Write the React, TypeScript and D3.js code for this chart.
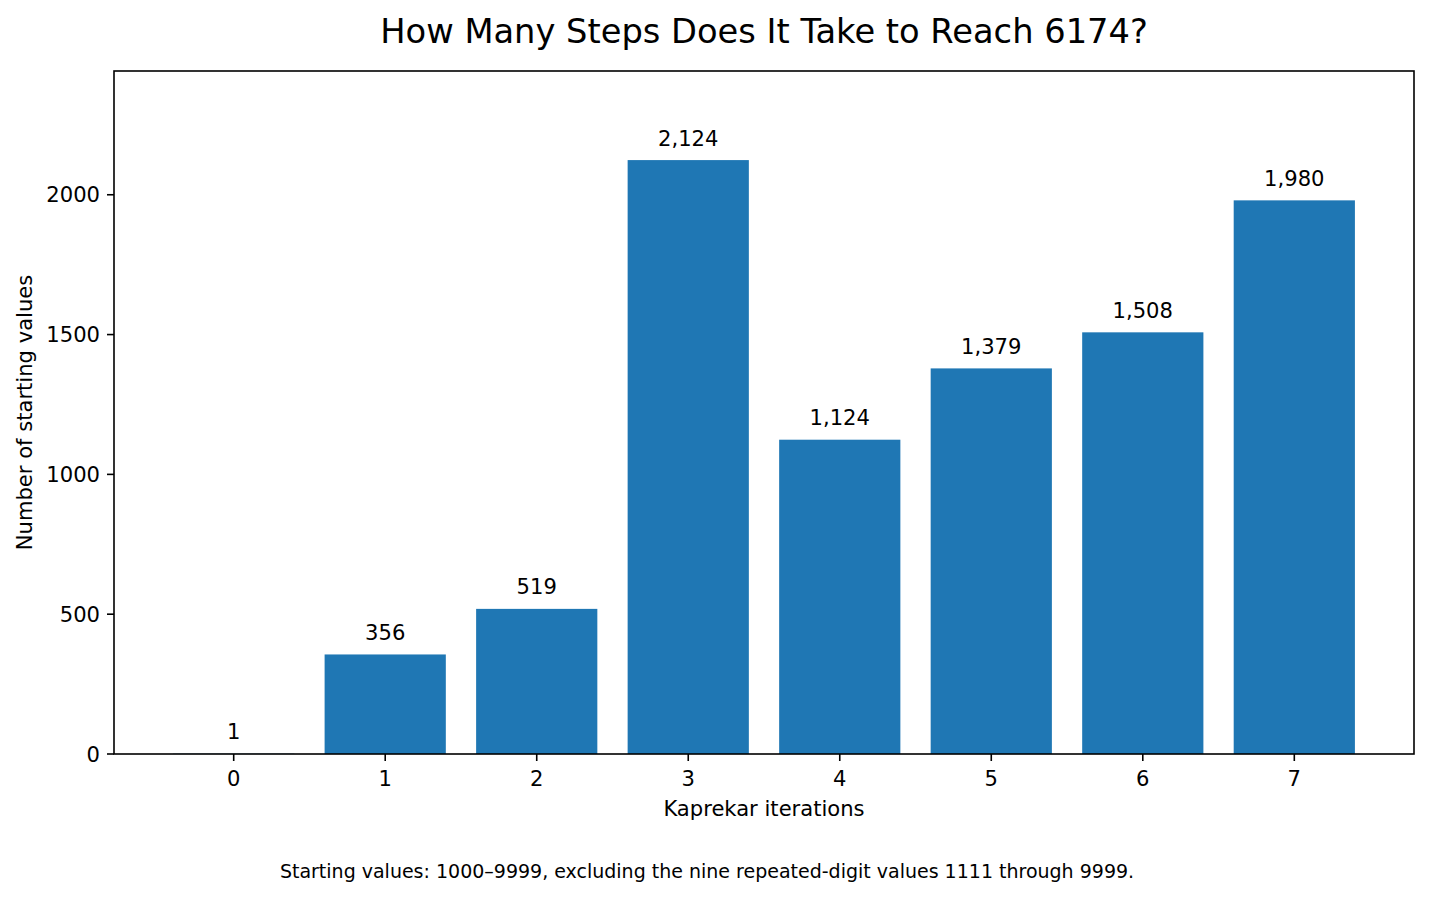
import React, { useEffect, useRef } from "react";
import * as d3 from "d3";

// dimensões da figura
const WIDTH = 1429;
const HEIGHT = 899;
const MARGIN = { top: 71, right: 15, bottom: 145, left: 114 };

// dados
const iterations: number[] = [0, 1, 2, 3, 4, 5, 6, 7];
const counts: number[] = [1, 356, 519, 2124, 1124, 1379, 1508, 1980];
const yTicks: number[] = [0, 500, 1000, 1500, 2000];

const TITLE = "How Many Steps Does It Take to Reach 6174?";
const X_LABEL = "Kaprekar iterations";
const Y_LABEL = "Number of starting values";
const NOTE =
  "Starting values: 1000\u20139999, excluding the nine repeated-digit values 1111 through 9999.";

const FONT = "'DejaVu Sans', sans-serif";
const BAR_COLOR = "#1f77b4";
const FS = 21.1; // tamanho dos textos dos eixos

const App: React.FC = () => {
  const ref = useRef<SVGSVGElement | null>(null);

  useEffect(() => {
    if (!ref.current) return;
    const svg = d3.select(ref.current);
    svg.selectAll("*").remove();

    const x0 = MARGIN.left;
    const x1 = WIDTH - MARGIN.right;
    const y0 = MARGIN.top;
    const y1 = HEIGHT - MARGIN.bottom;

    // escalas (margem de 5% como no matplotlib)
    const span = d3.max(iterations)! + 0.4 - (d3.min(iterations)! - 0.4);
    const xScale = d3
      .scaleLinear()
      .domain([d3.min(iterations)! - 0.4 - span * 0.05, d3.max(iterations)! + 0.4 + span * 0.05])
      .range([x0, x1]);
    const yScale = d3
      .scaleLinear()
      .domain([0, d3.max(counts)! * 1.15])
      .range([y1, y0]);
    const barW = xScale(0.8) - xScale(0);

    const g = svg.append("g").style("font-family", FONT);

    // barras
    g.selectAll(".bar")
      .data(counts)
      .enter()
      .append("rect")
      .attr("class", "bar")
      .attr("x", (_, i) => xScale(iterations[i]) - barW / 2)
      .attr("y", (d) => yScale(d))
      .attr("width", barW)
      .attr("height", (d) => y1 - yScale(d))
      .attr("fill", BAR_COLOR);

    // rótulos dos valores
    const fmt = d3.format(",");
    g.selectAll(".value")
      .data(counts)
      .enter()
      .append("text")
      .attr("class", "value")
      .attr("x", (_, i) => xScale(iterations[i]))
      .attr("y", (d) => yScale(d) - 14.5)
      .attr("text-anchor", "middle")
      .attr("font-size", FS)
      .text((d) => fmt(d));

    // moldura
    g.append("rect")
      .attr("x", x0)
      .attr("y", y0)
      .attr("width", x1 - x0)
      .attr("height", y1 - y0)
      .attr("fill", "none")
      .attr("stroke", "#000")
      .attr("stroke-width", 1.6);

    // eixo x
    const xt = g.selectAll(".xt").data(iterations).enter().append("g");
    xt.append("line")
      .attr("x1", (d) => xScale(d))
      .attr("x2", (d) => xScale(d))
      .attr("y1", y1)
      .attr("y2", y1 + 7)
      .attr("stroke", "#000")
      .attr("stroke-width", 1.6);
    xt.append("text")
      .attr("x", (d) => xScale(d))
      .attr("y", y1 + 32)
      .attr("text-anchor", "middle")
      .attr("font-size", FS)
      .text((d) => String(d));

    // eixo y
    const yt = g.selectAll(".yt").data(yTicks).enter().append("g");
    yt.append("line")
      .attr("x1", x0 - 7)
      .attr("x2", x0)
      .attr("y1", (d) => yScale(d))
      .attr("y2", (d) => yScale(d))
      .attr("stroke", "#000")
      .attr("stroke-width", 1.6);
    yt.append("text")
      .attr("x", x0 - 14)
      .attr("y", (d) => yScale(d) + 7.6)
      .attr("text-anchor", "end")
      .attr("font-size", FS)
      .text((d) => String(d));

    // títulos
    g.append("text")
      .attr("x", (x0 + x1) / 2)
      .attr("y", 43)
      .attr("text-anchor", "middle")
      .attr("font-size", 33.7)
      .text(TITLE);
    g.append("text")
      .attr("x", (x0 + x1) / 2)
      .attr("y", 816)
      .attr("text-anchor", "middle")
      .attr("font-size", FS)
      .text(X_LABEL);
    g.append("text")
      .attr("transform", `translate(32,${(y0 + y1) / 2}) rotate(-90)`)
      .attr("text-anchor", "middle")
      .attr("font-size", FS)
      .text(Y_LABEL);
    g.append("text")
      .attr("x", 707)
      .attr("y", 878)
      .attr("text-anchor", "middle")
      .attr("font-size", 19)
      .text(NOTE);
  }, []);

  return (
    <svg
      ref={ref}
      width={WIDTH}
      height={HEIGHT}
      style={{ position: "absolute", left: 0, top: 0, background: "#fff" }}
    />
  );
};

export default App;
